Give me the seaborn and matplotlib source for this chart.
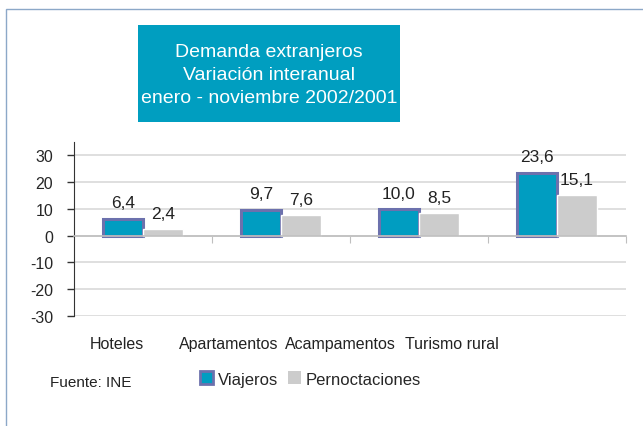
import pandas as pd
import matplotlib.pyplot as plt
import seaborn as sns
from matplotlib.patches import Rectangle, Patch
from matplotlib.transforms import blended_transform_factory

# Data
categorias = ["Hoteles", "Apartamentos", "Acampamentos", "Turismo rural"]
viajeros = [6.4, 9.7, 10.0, 23.6]
pernoctaciones = [2.4, 7.6, 8.5, 15.1]
series = ["Viajeros", "Pernoctaciones"]
y_ticks = [-30, -20, -10, 0, 10, 20, 30]

TEAL = "#009DC1"
EDGE = "#6C71AD"
GRAY = "#CCCCCC"

df = pd.DataFrame({
    "categoria": categorias * 2,
    "serie": [series[0]] * len(categorias) + [series[1]] * len(categorias),
    "valor": viajeros + pernoctaciones,
})

sns.set_style("white")
plt.rcParams["font.family"] = ["Liberation Sans", "DejaVu Sans"]
plt.rcParams["axes.unicode_minus"] = False

fig = plt.figure(figsize=(6.43, 4.27), dpi=100)
ax = fig.add_axes([74 / 643, 1 - 317 / 427, 552 / 643, 174 / 427])

sns.barplot(data=df, x="categoria", y="valor", hue="serie", order=categorias,
            hue_order=series, palette=[TEAL, GRAY], width=0.58, saturation=1,
            legend=False, ax=ax)

# Viajeros bars carry a slate-blue border
for bar in ax.containers[0]:
    bar.set_edgecolor(EDGE)
    bar.set_linewidth(2.2)

for cont in ax.containers:
    ax.bar_label(cont, labels=[f"{b.get_height():.1f}".replace(".", ",") for b in cont],
                 padding=6, fontsize=12.5, color="#222222")

ax.set_ylim(-30, 35)
ax.set_xlim(-0.5, len(categorias) - 0.5)
ax.set_yticks(y_ticks)
ax.tick_params(axis="y", which="major", direction="out", length=5, width=1,
               color="#333333", labelsize=11.5, pad=10, left=True)
ax.grid(axis="y", color="#D9D9D9", linewidth=1.2)
ax.set_axisbelow(True)
ax.set_xlabel("")
ax.set_ylabel("")

for s in ["top", "right"]:
    ax.spines[s].set_visible(False)
ax.spines["left"].set_color("#333333")
ax.spines["bottom"].set_position(("data", 0))
ax.spines["bottom"].set_color("#BFBFBF")
ax.spines["bottom"].set_linewidth(1.2)

# boundary ticks on the zero line, category names drawn below the plot
ax.set_xticks([i + 0.5 for i in range(len(categorias))])
ax.set_xticklabels([])
ax.tick_params(axis="x", direction="out", length=5, color="#BFBFBF", bottom=True)
trans = blended_transform_factory(ax.transData, ax.transAxes)
for i, cat in enumerate(categorias):
    ax.text(i * 0.81 - 0.19, -0.16, cat, transform=trans, ha="center",
            va="center", fontsize=11.5, color="#222222")

# Title box
fig.patches.append(Rectangle((138 / 643, 1 - 123 / 427), 262 / 643, 97 / 427,
                             transform=fig.transFigure, facecolor="#009EC0",
                             edgecolor="none", zorder=0))
fig.text(269 / 643, 1 - 75.5 / 427,
         "Demanda extranjeros\nVariación interanual\nenero - noviembre 2002/2001",
         ha="center", va="center", color="white", fontsize=14, linespacing=1.45)

# Outer frame
fig.patches.append(Rectangle((6 / 643, -0.05), 1.05, 1 - 10 / 427 + 0.05,
                             transform=fig.transFigure, facecolor="none",
                             edgecolor="#8CA8C8", linewidth=1))

fig.text(50 / 643, 1 - 383 / 427, "Fuente: INE", ha="left", va="center",
         fontsize=11, color="#222222")

handles = [Patch(facecolor=TEAL, edgecolor=EDGE, linewidth=2),
           Patch(facecolor=GRAY, edgecolor="none")]
fig.legend(handles, series, loc="center left", bbox_to_anchor=(200 / 643, 1 - 380 / 427),
           ncol=2, frameon=False, fontsize=12, handlelength=0.8, handleheight=0.8,
           handletextpad=0.25, columnspacing=0.6, borderpad=0, borderaxespad=0)

fig.savefig("out.png", dpi=100)
